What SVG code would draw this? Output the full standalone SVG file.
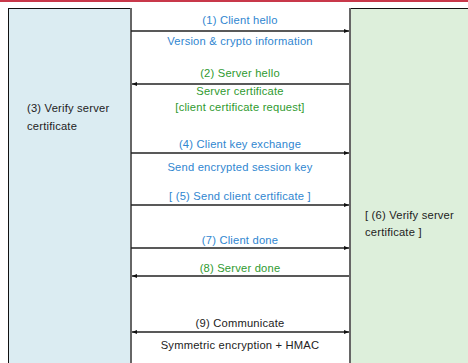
<svg xmlns="http://www.w3.org/2000/svg" width="468" height="363" viewBox="0 0 468 363">
<defs>
<style>
text{font-family:"Liberation Sans",Arial,sans-serif;font-size:11.2px;letter-spacing:0.2px}
.b{fill:#2f86d0}
.g{fill:#2f9a2f}
.k{fill:#222}
.c{text-anchor:middle}
.ln{stroke:#222;stroke-width:1.5;fill:none}
</style>
<marker id="ah" viewBox="0 0 10 10" refX="10" refY="5" markerWidth="5" markerHeight="5" orient="auto-start-reverse" markerUnits="userSpaceOnUse"><path d="M0,1 L10,5 L0,9 z" fill="#111"/></marker>
</defs>
<rect width="468" height="363" fill="#fff"/>
<rect x="0" y="0" width="468" height="2" fill="#c8384a"/>
<g id="client">
<rect x="8.5" y="8.5" width="122.5" height="360" fill="#dbecf2" stroke="#111" stroke-width="1"/>
<line x1="131" y1="8" x2="131" y2="363" stroke="#666" stroke-width="2"/>
<text class="k" x="27" y="112">(3) Verify server</text>
<text class="k" x="27" y="130">certificate</text>
</g>
<g id="server">
<rect x="350" y="8.5" width="125" height="360" fill="#ddefdb" stroke="#111" stroke-width="1"/>
<line x1="350" y1="8" x2="350" y2="363" stroke="#666" stroke-width="2"/>
<text class="k" x="365" y="219">[ (6) Verify server</text>
<text class="k" x="365" y="236">certificate ]</text>
</g>
<g id="connectors">
<line class="ln" x1="131" y1="31" x2="349" y2="31" marker-end="url(#ah)"/>
<line class="ln" x1="349" y1="84" x2="132" y2="84" marker-end="url(#ah)"/>
<line class="ln" x1="131" y1="153" x2="349" y2="153" marker-end="url(#ah)"/>
<line class="ln" x1="131" y1="205" x2="349" y2="205" marker-end="url(#ah)"/>
<line class="ln" x1="131" y1="248" x2="349" y2="248" marker-end="url(#ah)"/>
<line class="ln" x1="349" y1="276" x2="132" y2="276" marker-end="url(#ah)"/>
<line class="ln" x1="132" y1="332" x2="349" y2="332" marker-start="url(#ah)" marker-end="url(#ah)"/>
<text class="b c" x="240" y="24">(1) Client hello</text>
<text class="b c" x="240" y="45">Version &amp; crypto information</text>
<text class="g c" x="240" y="77">(2) Server hello</text>
<text class="g c" x="240" y="95">Server certificate</text>
<text class="g c" x="240" y="111">[client certificate request]</text>
<text class="b c" x="240" y="148">(4) Client key exchange</text>
<text class="b c" x="240" y="171">Send encrypted session key</text>
<text class="b c" x="240" y="200">[ (5) Send client certificate ]</text>
<text class="b c" x="240" y="244">(7) Client done</text>
<text class="g c" x="240" y="272">(8) Server done</text>
<text class="k c" x="240" y="327">(9) Communicate</text>
<text class="k c" x="240" y="349">Symmetric encryption + HMAC</text>
</g>
</svg>
